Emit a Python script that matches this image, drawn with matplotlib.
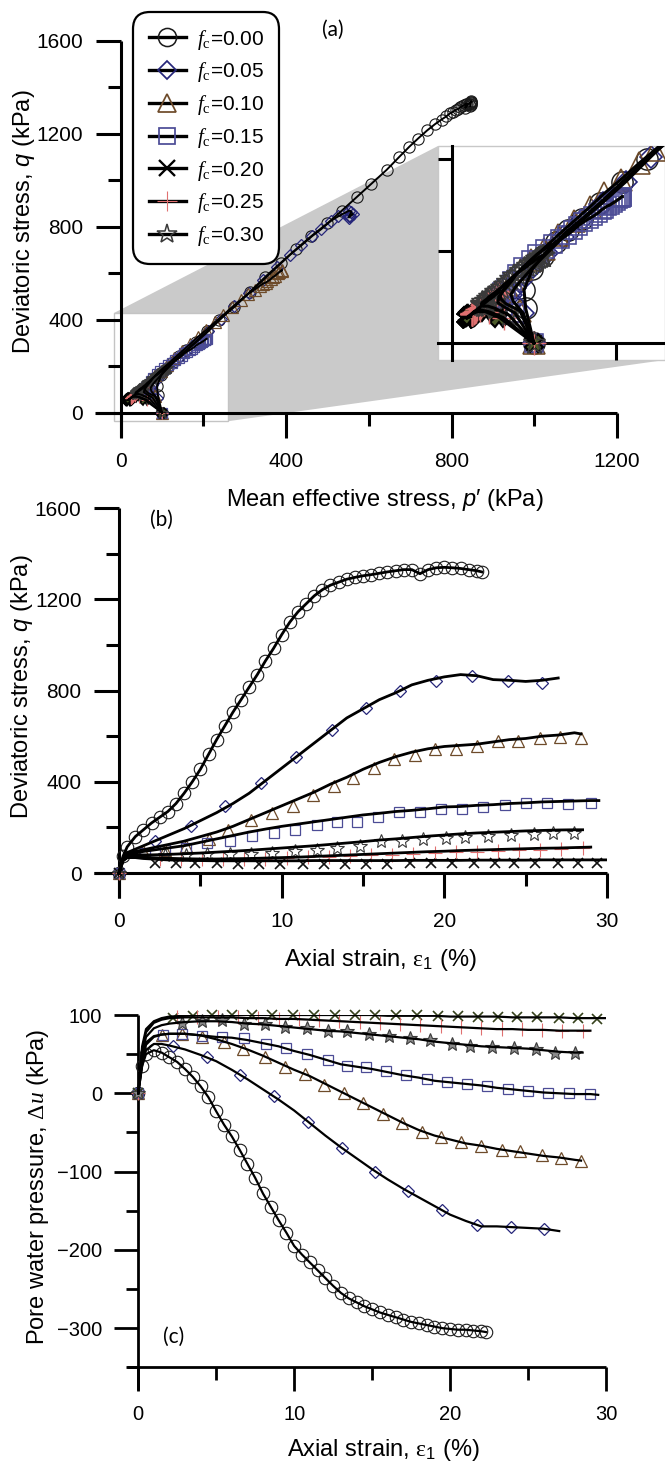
import numpy as np
import matplotlib
matplotlib.use("Agg")
import matplotlib.pyplot as plt
from matplotlib.lines import Line2D
from matplotlib.patches import Polygon, Rectangle
from matplotlib.ticker import MultipleLocator

plt.rcParams['font.family'] = ['Liberation Sans', 'DejaVu Sans']
plt.rcParams['mathtext.fontset'] = 'custom'
plt.rcParams['mathtext.rm'] = 'Liberation Serif'
plt.rcParams['mathtext.it'] = 'Liberation Sans:italic'
plt.rcParams['mathtext.cal'] = 'Liberation Serif:italic'
plt.rcParams['mathtext.sf'] = 'Liberation Sans'

# ---------------- data ----------------
labels = ['0.00', '0.05', '0.10', '0.15', '0.20', '0.25', '0.30']

# fc = 0.00
eps0 = [0, 0.25, 0.5, 1, 1.5, 2, 2.5, 3, 3.5, 4, 4.5, 5, 5.5, 6, 6.5, 7, 7.5, 8, 8.5, 9, 9.5, 10,
        10.5, 11, 11.5, 12, 12.5, 13, 13.5, 14, 14.5, 15, 15.5, 16, 16.5, 17, 17.5, 18, 18.5, 19,
        19.5, 20, 20.5, 21, 21.5, 22, 22.3]
q0 = [0, 75, 115, 160, 190, 220, 245, 270, 305, 350, 400, 455, 520, 585, 645, 705, 760, 815, 870,
      930, 985, 1045, 1100, 1145, 1180, 1215, 1242, 1262, 1275, 1288, 1296, 1303, 1308, 1314, 1320,
      1325, 1330, 1330, 1312, 1330, 1338, 1340, 1338, 1335, 1330, 1325, 1320]
u0 = [0, 35, 50, 55, 52, 46, 40, 31, 21, 9, -5, -23, -40, -55, -72, -90, -108, -128, -145, -162,
      -178, -195, -206, -216, -226, -236, -246, -255, -262, -267, -272, -276, -280, -283, -286,
      -289, -292, -294, -296, -298, -300, -301, -302, -302, -303, -304, -305]
p0 = [100, 90, 88, 98, 111, 127, 142, 159, 181, 208, 238, 275, 313, 350, 387, 425, 461, 500, 535,
      572, 606, 643, 673, 698, 719, 741, 760, 776, 787, 796, 804, 810, 816, 821, 826, 831, 835,
      837, 833, 841, 846, 848, 848, 847, 846, 846, 845]

# fc = 0.05
eps1 = [0, 0.25, 0.5, 1, 1.5, 2, 3, 4, 5, 6, 7, 8, 9, 10, 11, 12, 13, 14, 15, 16, 17, 18, 19, 20,
        21, 22, 23, 24, 25, 26, 27]
q1 = [0, 65, 90, 105, 120, 135, 165, 195, 230, 265, 305, 350, 405, 460, 515, 570, 625, 680, 720,
      760, 790, 825, 845, 860, 870, 865, 848, 845, 840, 845, 855]
u1 = [0, 35, 55, 63, 63, 61, 56, 49, 41, 30, 18, 5, -8, -22, -38, -54, -69, -83, -97, -110, -122,
      -133, -144, -155, -163, -170, -170, -171, -172, -173, -176]
p1 = [100, 87, 75, 72, 77, 84, 99, 116, 136, 158, 184, 212, 243, 275, 310, 344, 377, 410, 437,
      463, 485, 508, 526, 542, 553, 558, 553, 553, 552, 555, 561]
em1 = [0, 2.2, 4.4, 6.5, 8.7, 10.9, 13.1, 15.2, 17.3, 19.5, 21.7, 23.9, 26.0]
qm1 = [0, 140, 205, 292, 394, 511, 628, 723, 796, 840, 862, 840, 833]
um1 = [0, 60, 46, 23, -3, -37, -70, -100, -125, -149, -168, -171, -173]

# fc = 0.10
eps2 = [0, 0.25, 0.5, 1, 1.5, 2, 3, 4, 5, 6, 7, 8, 9, 10, 11, 12, 13, 14, 15, 16, 17, 18, 19, 20,
        21, 22, 23, 24, 25, 26, 27, 28, 28.4]
q2 = [0, 70, 85, 95, 102, 110, 125, 140, 160, 180, 205, 235, 265, 295, 325, 355, 390, 420, 455,
      485, 510, 530, 545, 555, 560, 565, 575, 585, 590, 600, 605, 615, 610]
u2 = [0, 40, 62, 72, 75, 76, 76, 74, 69, 63, 56, 48, 39, 30, 22, 12, 2, -8, -18, -28, -38, -47,
      -54, -59, -64, -67, -71, -74, -77, -80, -82, -85, -86]
p2 = [100, 83, 66, 60, 59, 61, 66, 73, 84, 97, 112, 130, 149, 168, 186, 206, 228, 248, 270, 290,
      308, 324, 336, 344, 351, 355, 363, 369, 374, 380, 384, 390, 389]
em2 = [0, 1.5, 2.8, 4.1, 5.5, 6.7, 8.1, 9.4, 10.7, 11.9, 13.2, 14.4, 15.7, 16.9, 18.2, 19.4, 20.7,
       22.0, 23.3, 24.5, 25.9, 27.1, 28.4]
qm2 = [0, 95, 102, 120, 150, 190, 234, 263, 292, 343, 380, 416, 460, 500, 519, 543, 546, 555, 581,
       581, 592, 596, 592]
um2 = [0, 74, 76, 72, 65, 57, 46, 34, 25, 10, 0, -13, -26, -38, -49, -56, -62, -67, -72, -74, -79,
       -83, -86]

# fc = 0.15
eps3 = [0, 0.25, 0.5, 1, 1.5, 2, 3, 4, 5, 6, 7, 8, 9, 10, 11, 12, 13, 14, 15, 16, 17, 18, 19, 20,
        21, 22, 23, 24, 25, 26, 27, 28, 29, 29.5]
q3 = [0, 65, 80, 88, 95, 100, 110, 120, 135, 150, 165, 180, 193, 205, 215, 225, 235, 245, 255, 262,
      270, 275, 282, 290, 292, 297, 300, 305, 308, 312, 314, 316, 318, 318]
u3 = [0, 45, 65, 73, 75, 76, 76, 74, 72, 71, 68, 64, 60, 54, 49, 43, 37, 34, 31, 27, 23, 20, 16,
      14, 12, 10, 7, 5, 3, 1, 0, -1, -1, -2]
p3 = [100, 77, 62, 56, 57, 57, 61, 66, 73, 79, 87, 96, 104, 114, 123, 132, 141, 148, 154, 160,
      167, 172, 178, 183, 185, 189, 193, 197, 200, 203, 205, 206, 207, 208]
em3 = [0, 1.6, 2.8, 4.1, 5.4, 6.8, 8.2, 9.5, 10.8, 12.2, 13.4, 14.6, 15.9, 17.2, 18.5, 19.8, 21.1,
       22.4, 23.7, 25.0, 26.3, 27.6, 29.0]
qm3 = [0, 90, 102, 110, 131, 142, 161, 178, 190, 212, 226, 224, 245, 267, 270, 282, 282, 289, 300,
       307, 307, 304, 307]
um3 = [0, 74, 76, 73, 72, 70, 63, 58, 50, 42, 35, 34, 28, 23, 18, 14, 12, 9, 5, 3, 0, 0, -1]

# fc = 0.20
eps4 = [0, 0.25, 0.5, 1, 1.5, 2, 3, 4, 5, 6, 7, 8, 9, 10, 11, 12, 13, 14, 15, 16, 17, 18, 19, 20,
        21, 22, 23, 24, 25, 26, 27, 28, 29, 30]
q4 = [0, 55, 68, 68, 64, 62, 58, 56, 55, 54, 54, 54, 54, 54, 54, 55, 55, 55, 55, 55, 55, 56, 56,
      56, 56, 57, 57, 57, 57, 58, 58, 58, 58, 58]
u4 = [0, 60, 82, 92, 96, 98, 99, 100, 100, 100, 100, 100, 100, 100, 100, 100, 100, 100, 100, 99,
      99, 99, 99, 98, 98, 98, 98, 97, 97, 97, 97, 96, 96, 96]
p4 = [100, 58, 41, 31, 25, 23, 20, 19, 18, 18, 18, 18, 18, 18, 18, 18, 18, 18, 18, 19, 19, 20, 20,
      21, 21, 21, 21, 22, 22, 22, 22, 23, 23, 23]
em4 = [0, 2.2, 3.5, 4.7, 6.0, 7.3, 8.6, 9.9, 11.3, 12.6, 13.9, 15.2, 16.5, 17.9, 19.2, 20.5, 21.8,
       23.1, 24.3, 25.6, 27.0, 28.2, 29.4]
qm4 = [0, 45, 44, 43, 43, 42, 42, 42, 42, 42, 42, 42, 42, 43, 43, 43, 43, 43, 43, 44, 44, 44, 44]
um4 = [0, 96, 99, 100, 100, 100, 100, 100, 100, 100, 100, 100, 100, 100, 99, 99, 98, 98, 97, 97,
       96, 96, 95]

# fc = 0.25
eps5 = [0, 0.25, 0.5, 1, 1.5, 2, 3, 4, 5, 6, 7, 8, 9, 10, 11, 12, 13, 14, 15, 16, 17, 18, 19, 20,
        21, 22, 23, 24, 25, 26, 27, 28, 29]
q5 = [0, 55, 68, 72, 70, 68, 65, 63, 62, 62, 63, 64, 66, 68, 70, 73, 76, 79, 82, 85, 88, 91, 94,
      96, 99, 101, 103, 105, 107, 109, 110, 112, 114]
u5 = [0, 55, 78, 90, 94, 96, 97, 97, 97, 97, 96, 96, 95, 95, 94, 93, 92, 91, 90, 89, 88, 87, 86,
      85, 84, 83, 82, 82, 81, 81, 80, 80, 80]
p5 = [100, 63, 45, 34, 29, 27, 25, 24, 24, 24, 25, 25, 27, 28, 29, 31, 33, 35, 37, 39, 41, 43, 45,
      47, 49, 51, 52, 53, 55, 55, 57, 57, 58]
em5 = [0, 2.5, 3.8, 5.1, 6.4, 7.7, 9.0, 10.3, 11.6, 12.9, 14.2, 15.5, 16.8, 18.1, 19.4, 20.7, 22.0,
       23.3, 24.6, 25.9, 27.2, 28.5]
qm5 = [0, 64, 62, 61, 61, 62, 64, 66, 69, 72, 75, 78, 81, 85, 88, 91, 94, 97, 100, 103, 106, 108]
um5 = [0, 97, 97, 97, 97, 96, 95, 95, 94, 92, 91, 90, 88, 87, 86, 85, 83, 82, 82, 81, 80, 80]

# fc = 0.30
eps6 = [0, 0.25, 0.5, 1, 1.5, 2, 3, 4, 5, 6, 7, 8, 9, 10, 11, 12, 13, 14, 15, 16, 17, 18, 19, 20,
        21, 22, 23, 24, 25, 26, 27, 28, 28.5]
q6 = [0, 60, 75, 80, 80, 80, 82, 85, 88, 92, 96, 100, 105, 110, 115, 120, 126, 132, 138, 145, 150,
      156, 162, 167, 172, 176, 179, 182, 185, 187, 189, 190, 190]
u6 = [0, 50, 72, 83, 87, 89, 91, 92, 92, 91, 89, 88, 86, 84, 82, 80, 79, 77, 75, 73, 71, 69, 66,
      64, 62, 60, 59, 58, 57, 55, 53, 52, 52]
p6 = [100, 70, 53, 44, 40, 38, 36, 36, 37, 40, 43, 45, 49, 53, 56, 60, 63, 67, 71, 75, 79, 83, 88,
      92, 95, 99, 101, 103, 105, 107, 110, 111, 111]
em6 = [0, 2.8, 4.1, 5.4, 6.8, 8.1, 9.4, 10.8, 12.2, 13.4, 14.8, 16.1, 17.4, 18.7, 20.1, 21.3, 22.7,
       24.1, 25.5, 26.7, 28.0]
qm6 = [0, 78, 80, 82, 84, 86, 88, 99, 102, 112, 120, 139, 139, 149, 153, 158, 164, 168, 172, 175,
       178]
um6 = [0, 90, 92, 93, 89, 89, 85, 83, 80, 79, 76, 73, 71, 68, 63, 61, 59, 58, 56, 52, 52]

series = [
    dict(eps=eps0, q=q0, u=u0, p=p0, em=eps0, qm=q0, um=u0),
    dict(eps=eps1, q=q1, u=u1, p=p1, em=em1, qm=qm1, um=um1),
    dict(eps=eps2, q=q2, u=u2, p=p2, em=em2, qm=qm2, um=um2),
    dict(eps=eps3, q=q3, u=u3, p=p3, em=em3, qm=qm3, um=um3),
    dict(eps=eps4, q=q4, u=u4, p=p4, em=em4, qm=qm4, um=um4),
    dict(eps=eps5, q=q5, u=u5, p=p5, em=em5, qm=qm5, um=um5),
    dict(eps=eps6, q=q6, u=u6, p=p6, em=em6, qm=qm6, um=um6),
]

# marker styles: (marker, edgecolor, facecolor, base size, mew)
mstyle = [
    ('o', '#1a1a1a', 'none', 9.0, 0.8),
    ('D', '#26267a', 'none', 6.5, 0.9),
    ('^', '#6e4b2a', 'none', 9.0, 0.9),
    ('s', '#4c4c96', 'none', 7.5, 0.9),
    ('x', '#111111', 'none', 7.5, 1.2),
    ('+', '#e07070', 'none', 10.0, 0.8),
    ('*', '#3a3a3a', 'none', 10.0, 0.8),
]

# ---------------- figure ----------------
W, H = 665, 1466
fig = plt.figure(figsize=(W / 100, H / 100), dpi=100)


def px_axes(l, r, t, b, **kw):
    return fig.add_axes([l / W, 1 - b / H, (r - l) / W, (b - t) / H], **kw)


def style(ax, xat, lw=2.2, maj=18, mnr=9.5, lsize=15, xpad=10, ypad=9):
    for s in ['top', 'right']:
        ax.spines[s].set_visible(False)
    ax.spines['left'].set_position(('data', 0))
    ax.spines['bottom'].set_position(('data', xat))
    for s in ['left', 'bottom']:
        ax.spines[s].set_linewidth(lw)
        ax.spines[s].set_capstyle('butt')
    ax.tick_params(which='major', direction='out', length=maj, width=lw, labelsize=lsize)
    ax.tick_params(which='minor', direction='out', length=mnr, width=lw)
    ax.tick_params(axis='x', which='major', pad=xpad)
    ax.tick_params(axis='y', which='major', pad=ypad)
    ax.patch.set_alpha(0)


# ---------------- panel (a) ----------------
axA = px_axes(95, 617, 41, 437)
style(axA, 0)
axA.set_xlim(-62, 1200)
axA.set_ylim(-105, 1600)
axA.xaxis.set_major_locator(MultipleLocator(400))
axA.xaxis.set_minor_locator(MultipleLocator(200))
axA.yaxis.set_major_locator(MultipleLocator(400))
axA.yaxis.set_minor_locator(MultipleLocator(200))

ZX0, ZX1, ZY0, ZY1 = -17, 260, -37, 428
axI = px_axes(438, 665, 146, 360)
axI.set_xlim(ZX0, ZX1)
axI.set_ylim(ZY0, ZY1)
for s in ['top', 'right']:
    axI.spines[s].set_visible(False)
axI.spines['left'].set_position(('data', 0))
axI.spines['bottom'].set_position(('data', 0))
for s in ['left', 'bottom']:
    axI.spines[s].set_linewidth(2.2)
axI.set_xticks([200])
axI.set_yticks([200, 400])
axI.tick_params(axis='x', direction='out', length=12, width=2.2, labelbottom=False)
axI.tick_params(axis='y', direction='out', length=10, width=2.2, labelleft=False)
axI.add_patch(Rectangle((0, 0), 1, 1, transform=axI.transAxes, fill=False,
                        ec='#c8c8c8', lw=1.0, clip_on=False, zorder=0.5))

inv = fig.transFigure.inverted()
pts = [
    inv.transform(axA.transData.transform((ZX0, ZY1))),
    inv.transform(axI.transAxes.transform((0, 1))),
    inv.transform(axI.transAxes.transform((1, 1))),
    inv.transform(axI.transAxes.transform((1, 0))),
    inv.transform(axA.transData.transform((ZX1, ZY0))),
    inv.transform(axA.transData.transform((ZX1, ZY1))),
]
axA.add_patch(Polygon(pts, closed=True, transform=fig.transFigure, fc='#cacaca',
                      ec='none', zorder=0.4, clip_on=False))
axA.add_patch(Rectangle((ZX0, ZY0), ZX1 - ZX0, ZY1 - ZY0, fc='none', ec='#c4c4c4',
                        lw=1.0, zorder=0.5))

for i, s in enumerate(series):
    m, ec, fc, ms, mew = mstyle[i]
    a_m = 'X' if m == 'x' else m
    a_fc = '#4a5a28' if m == 'x' else fc
    a_ec = 'black' if m == 'x' else ec
    axA.plot(s['p'], s['q'], ls='none', marker=a_m, ms=ms * 0.9, mfc=a_fc, mec=a_ec,
             mew=mew, zorder=3, clip_on=False)
    axA.plot(s['p'], s['q'], color='k', lw=1.4, zorder=3.5)
    axI.plot(s['p'], s['q'], ls='none', marker=a_m, ms=ms * 1.7, mfc=a_fc, mec=a_ec,
             mew=mew * 1.3, zorder=3)
    axI.plot(s['p'], s['q'], color='k', lw=2.2, zorder=3.5)
axA.set_xlim(-62, 1200)
axA.set_ylim(-105, 1600)

handles = []
for i, lab in enumerate(labels):
    m, ec, fc, ms, mew = mstyle[i]
    lec = 'black' if m == 'x' else ec
    handles.append(Line2D([], [], color='k', lw=2.4, marker=m, ms=ms * 1.45, mfc=fc,
                          mec=lec, mew=mew * 1.4 if m != '+' else 0.8,
                          label=r'$\mathcal{f}_{\mathrm{c}}$=' + lab))
leg = axA.legend(handles=handles, loc='upper left',
                 bbox_to_anchor=(133 / W, 1 - 12 / H), bbox_transform=fig.transFigure,
                 fontsize=15, handlelength=1.8, handletextpad=0.5, labelspacing=0.42,
                 borderpad=0.75, borderaxespad=0, frameon=True, fancybox=True,
                 framealpha=1, edgecolor='black')
leg.get_frame().set_linewidth(1.6)
leg.get_frame().set_boxstyle('round,pad=0,rounding_size=0.8')
leg.set_zorder(10)

# ---------------- panel (b) ----------------
axB = px_axes(94, 607, 508, 898)
style(axB, 0)
axB.set_xlim(-1.54, 30)
axB.set_ylim(-109, 1600)
axB.xaxis.set_major_locator(MultipleLocator(10))
axB.xaxis.set_minor_locator(MultipleLocator(5))
axB.yaxis.set_major_locator(MultipleLocator(400))
axB.yaxis.set_minor_locator(MultipleLocator(200))
for i, s in enumerate(series):
    m, ec, fc, ms, mew = mstyle[i]
    axB.plot(s['em'], s['qm'], ls='none', marker=m, ms=ms, mfc=fc, mec=ec, mew=mew, zorder=3)
    axB.plot(s['eps'], s['q'], color='k', lw=2.0, zorder=4)

# ---------------- panel (c) ----------------
axC = px_axes(127, 606, 1015, 1390)
style(axC, -350, lw=2.0, maj=17, mnr=9, lsize=14.5)
axC.set_xlim(-0.72, 30)
axC.set_ylim(-379, 100)
axC.xaxis.set_major_locator(MultipleLocator(10))
axC.xaxis.set_minor_locator(MultipleLocator(5))
axC.yaxis.set_major_locator(MultipleLocator(100))
axC.yaxis.set_minor_locator(MultipleLocator(50))
for i, s in enumerate(series):
    m, ec, fc, ms, mew = mstyle[i]
    c_ec = '#36421c' if m == 'x' else ec
    c_fc = '#8a8a8a' if m == '*' else fc
    axC.plot(s['em'], s['um'], ls='none', marker=m, ms=ms, mfc=c_fc, mec=c_ec, mew=mew,
             zorder=3, clip_on=False)
    axC.plot(s['eps'], s['u'], color='k', lw=1.6, zorder=4)

# ---------------- texts ----------------
fig.text(24 / W, 1 - 222 / H, 'Deviatoric stress, $q$ (kPa)', rotation=90,
         ha='center', va='center', fontsize=17)
fig.text(385 / W, 1 - 500 / H, 'Mean effective stress, $p$\u2032 (kPa)',
         ha='center', va='center', fontsize=17)
fig.text(22 / W, 1 - 687 / H, 'Deviatoric stress, $q$ (kPa)', rotation=90,
         ha='center', va='center', fontsize=17)
fig.text(380 / W, 1 - 960 / H, r'Axial strain, $\mathrm{\varepsilon}_{\mathsf{1}}$ (%)',
         ha='center', va='center', fontsize=17)
fig.text(38 / W, 1 - 1187 / H, r'Pore water pressure, $\mathrm{\Delta}\mathcal{u}$ (kPa)',
         rotation=90, ha='center', va='center', fontsize=17)
fig.text(383 / W, 1 - 1450 / H, r'Axial strain, $\mathrm{\varepsilon}_{\mathsf{1}}$ (%)',
         ha='center', va='center', fontsize=17)
for txt, x, y in [('(a)', 333, 30), ('(b)', 161, 520), ('(c)', 174, 1337)]:
    fig.text(x / W, 1 - y / H, txt, ha='center', va='center', fontsize=15,
             family=['Lato', 'DejaVu Sans'])

fig.savefig('out.png', dpi=100)
